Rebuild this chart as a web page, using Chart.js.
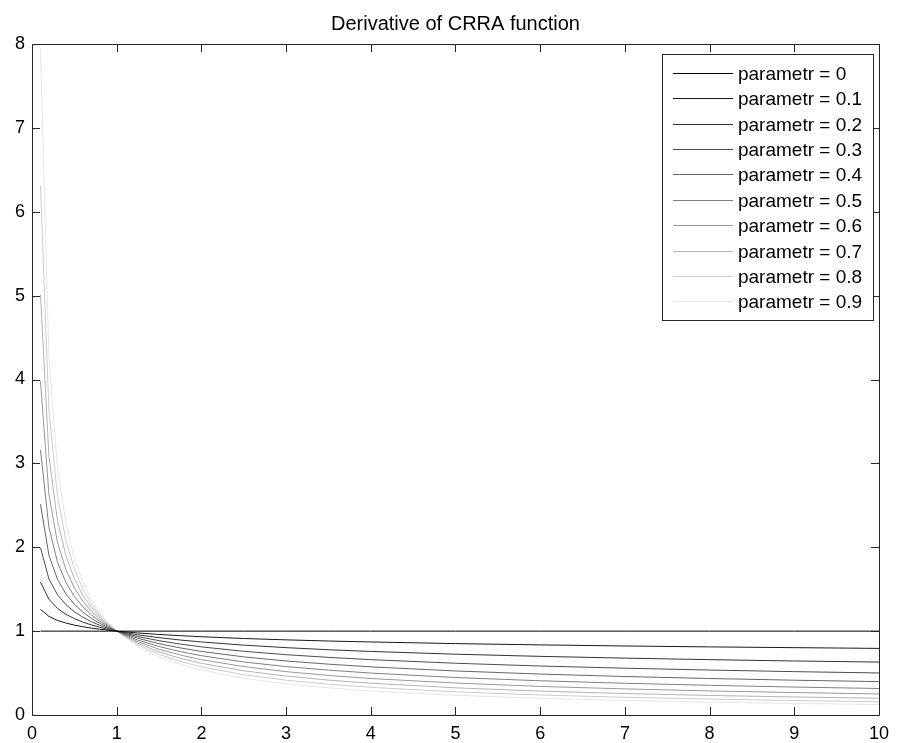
<!DOCTYPE html>
<html>
<head>
<meta charset="utf-8">
<title>Derivative of CRRA function</title>
<script src="https://cdn.jsdelivr.net/npm/chart.js@4.4.1/dist/chart.umd.min.js"></script>
<style>
  html, body { margin: 0; padding: 0; background: #ffffff; }
  #wrap { width: 897px; height: 743px; }
</style>
</head>
<body>
<div id="wrap"><canvas id="chart" width="897" height="743"></canvas></div>
<script>
// Consumption levels at which the marginal utility is plotted
const xValues = [0.1, 0.2, 0.3, 0.4, 0.5, 0.6, 0.7, 0.8, 0.9, 1, 1.25, 1.5, 1.75, 2, 2.5, 3, 3.5, 4, 5, 6, 7, 8, 9, 10];

// Marginal utility u'(x) for each risk-aversion parameter
const param00 = [1, 1, 1, 1, 1, 1, 1, 1, 1, 1, 1, 1, 1, 1, 1, 1, 1, 1, 1, 1, 1, 1, 1, 1];
const param01 = [1.259, 1.175, 1.128, 1.096, 1.072, 1.052, 1.036, 1.023, 1.011, 1, 0.978, 0.960, 0.946, 0.933, 0.912, 0.896, 0.882, 0.871, 0.851, 0.836, 0.823, 0.812, 0.803, 0.794];
const param02 = [1.585, 1.380, 1.272, 1.201, 1.149, 1.108, 1.074, 1.046, 1.021, 1, 0.956, 0.922, 0.894, 0.871, 0.833, 0.803, 0.778, 0.758, 0.725, 0.699, 0.678, 0.660, 0.644, 0.631];
const param03 = [1.995, 1.621, 1.435, 1.316, 1.231, 1.166, 1.113, 1.069, 1.032, 1, 0.935, 0.886, 0.846, 0.812, 0.760, 0.719, 0.687, 0.660, 0.617, 0.584, 0.558, 0.536, 0.517, 0.501];
const param04 = [2.512, 1.904, 1.619, 1.443, 1.320, 1.227, 1.153, 1.093, 1.043, 1, 0.915, 0.850, 0.800, 0.758, 0.693, 0.644, 0.606, 0.574, 0.525, 0.488, 0.459, 0.435, 0.415, 0.398];
const param05 = [3.162, 2.236, 1.826, 1.581, 1.414, 1.291, 1.195, 1.118, 1.054, 1, 0.894, 0.816, 0.756, 0.707, 0.632, 0.577, 0.535, 0.500, 0.447, 0.408, 0.378, 0.354, 0.333, 0.316];
const param06 = [3.981, 2.627, 2.060, 1.733, 1.516, 1.359, 1.239, 1.143, 1.065, 1, 0.875, 0.784, 0.715, 0.660, 0.577, 0.517, 0.472, 0.435, 0.381, 0.341, 0.311, 0.287, 0.268, 0.251];
const param07 = [5.012, 3.085, 2.323, 1.899, 1.625, 1.430, 1.284, 1.169, 1.077, 1, 0.855, 0.753, 0.676, 0.616, 0.527, 0.464, 0.416, 0.379, 0.324, 0.285, 0.256, 0.233, 0.215, 0.200];
const param08 = [6.310, 3.624, 2.621, 2.081, 1.741, 1.505, 1.330, 1.195, 1.088, 1, 0.837, 0.723, 0.639, 0.574, 0.480, 0.415, 0.367, 0.330, 0.276, 0.239, 0.211, 0.190, 0.172, 0.158];
const param09 = [7.943, 4.257, 2.955, 2.281, 1.866, 1.584, 1.379, 1.222, 1.100, 1, 0.818, 0.694, 0.604, 0.536, 0.438, 0.372, 0.324, 0.287, 0.235, 0.199, 0.174, 0.154, 0.138, 0.126];

const seriesValues = [param00, param01, param02, param03, param04, param05, param06, param07, param08, param09];
const seriesLabels = ['parametr = 0', 'parametr = 0.1', 'parametr = 0.2', 'parametr = 0.3', 'parametr = 0.4',
                      'parametr = 0.5', 'parametr = 0.6', 'parametr = 0.7', 'parametr = 0.8', 'parametr = 0.9'];
const seriesGrays = [0, 26, 51, 77, 102, 128, 153, 179, 204, 230];

const xTicks = [0, 1, 2, 3, 4, 5, 6, 7, 8, 9, 10];
const yTicks = [0, 1, 2, 3, 4, 5, 6, 7, 8];

const titleText = 'Derivative of CRRA function';
const FONT = '"Liberation Sans", Arial, Helvetica, sans-serif';
const FRAME = '#262626';

const datasets = seriesValues.map((ys, i) => ({
  label: seriesLabels[i],
  data: ys.map((y, j) => ({ x: xValues[j], y })),
  borderColor: `rgb(${seriesGrays[i]},${seriesGrays[i]},${seriesGrays[i]})`,
  backgroundColor: `rgb(${seriesGrays[i]},${seriesGrays[i]},${seriesGrays[i]})`,
  borderWidth: 1,
  pointRadius: 0,
  tension: 0,
  fill: false
}));

// Box around the axes with inward tick marks on all four sides
const framePlugin = {
  id: 'frame',
  afterDatasetsDraw(chart) {
    const { ctx, chartArea: a, scales } = chart;
    const len = 8;
    ctx.save();
    ctx.strokeStyle = FRAME;
    ctx.lineWidth = 1;
    ctx.beginPath();
    ctx.rect(Math.round(a.left) + 0.5, Math.round(a.top) + 0.5,
             Math.round(a.right - a.left), Math.round(a.bottom - a.top));
    ctx.stroke();
    ctx.beginPath();
    xTicks.forEach(v => {
      const px = Math.round(scales.x.getPixelForValue(v)) + 0.5;
      ctx.moveTo(px, a.bottom); ctx.lineTo(px, a.bottom - len);
      ctx.moveTo(px, a.top); ctx.lineTo(px, a.top + len);
    });
    yTicks.forEach(v => {
      const py = Math.round(scales.y.getPixelForValue(v)) + 0.5;
      ctx.moveTo(a.left, py); ctx.lineTo(a.left + len, py);
      ctx.moveTo(a.right, py); ctx.lineTo(a.right - len, py);
    });
    ctx.stroke();
    ctx.restore();
  }
};

// Title centred over the plotting area
const titlePlugin = {
  id: 'plotTitle',
  afterDraw(chart) {
    const { ctx, chartArea: a } = chart;
    ctx.save();
    ctx.fillStyle = '#000';
    ctx.font = `20px ${FONT}`;
    ctx.textAlign = 'center';
    ctx.textBaseline = 'alphabetic';
    ctx.fillText(titleText, (a.left + a.right) / 2, 30);
    ctx.restore();
  }
};

// Legend box in the upper right corner of the axes
const legendPlugin = {
  id: 'boxLegend',
  afterDraw(chart) {
    const { ctx, chartArea: a } = chart;
    const boxRight = a.right - 6, boxTop = a.top + 10;
    const boxW = 211, rowH = 25.4, padTop = 6;
    const boxH = padTop * 2 + rowH * chart.data.datasets.length;
    const boxLeft = boxRight - boxW;
    ctx.save();
    ctx.fillStyle = '#fff';
    ctx.fillRect(boxLeft, boxTop, boxW, boxH);
    ctx.strokeStyle = FRAME;
    ctx.lineWidth = 1;
    ctx.strokeRect(Math.round(boxLeft) + 0.5, Math.round(boxTop) + 0.5, Math.round(boxW), Math.round(boxH));
    ctx.font = `19px ${FONT}`;
    ctx.textBaseline = 'middle';
    ctx.textAlign = 'left';
    chart.data.datasets.forEach((ds, i) => {
      const cy = Math.round(boxTop + padTop + rowH * (i + 0.5)) + 0.5;
      ctx.strokeStyle = ds.borderColor;
      ctx.beginPath();
      ctx.moveTo(boxLeft + 11, cy);
      ctx.lineTo(boxLeft + 71, cy);
      ctx.stroke();
      ctx.fillStyle = '#000';
      ctx.fillText(ds.label, boxLeft + 76, cy + 1);
    });
    ctx.restore();
  }
};

new Chart(document.getElementById('chart'), {
  type: 'line',
  data: { datasets },
  options: {
    responsive: false,
    animation: false,
    devicePixelRatio: 1,
    layout: { padding: { top: 44, right: 18, left: 0, bottom: 0 } },
    plugins: {
      legend: { display: false },
      title: { display: false },
      tooltip: { enabled: false }
    },
    scales: {
      x: {
        type: 'linear',
        min: 0, max: 10,
        afterFit: s => { s.height = 28; },
        afterBuildTicks: s => { s.ticks = xTicks.map(v => ({ value: v })); },
        grid: { display: false, drawTicks: false },
        border: { display: false },
        ticks: { color: '#000', font: { size: 18, family: FONT }, padding: 8, maxRotation: 0, autoSkip: false }
      },
      y: {
        type: 'linear',
        min: 0, max: 8,
        afterFit: s => { s.width = 32; },
        afterBuildTicks: s => { s.ticks = yTicks.map(v => ({ value: v })); },
        grid: { display: false, drawTicks: false },
        border: { display: false },
        ticks: { color: '#000', font: { size: 18, family: FONT }, padding: 7, autoSkip: false }
      }
    }
  },
  plugins: [framePlugin, titlePlugin, legendPlugin]
});
</script>
</body>
</html>
